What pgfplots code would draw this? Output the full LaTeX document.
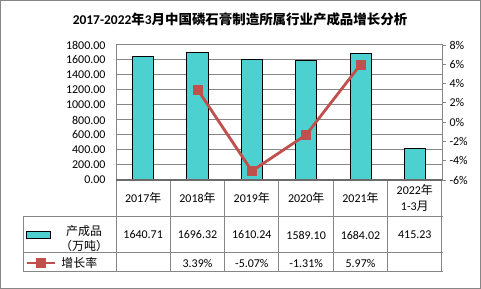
\documentclass[border=0pt]{standalone}
\usepackage{pgfplots}
\pgfplotsset{compat=1.18}
\usepackage{fontspec}
\setmainfont{Carlito}
\newfontfamily\cjk{Noto Sans CJK SC}
\definecolor{barc}{RGB}{77,208,208}
\definecolor{linec}{RGB}{192,80,77}
\definecolor{gridc}{RGB}{134,134,134}
\newcommand{\nian}{{\cjk 年}}
\begin{document}
\begin{tikzpicture}
\draw[gridc, line width=1bp] (0.5bp,0.5bp) rectangle (480.5bp,288.5bp);
\node[font=\fontsize{13.5}{14}\selectfont\bfseries] at (240bp,270bp) {2017-2022{\cjk 年}3{\cjk 月中国磷石膏制造所属行业产成品增长分析}};

\begin{axis}[at={(116bp,109bp)}, anchor=south west, scale only axis, width=326bp, height=135bp,
 xmin=-0.5, xmax=5.5, ymin=0, ymax=1800,
 xtick=\empty,
 ytick={0,200,...,1800},
 yticklabels={0.00,200.00,400.00,600.00,800.00,1000.00,1200.00,1400.00,1600.00,1800.00},
 ymajorgrids, grid style={gridc, line width=1bp},
 major tick length=0pt,
 axis line style={gridc, line width=1bp},
 tick label style={font=\fontsize{12}{12}\selectfont},
 yticklabel shift=7bp,
 ybar,
 legend style={at={(axis description cs:-0.276,-0.407)}, anchor=west, draw=none, fill=none, inner sep=0pt, legend cell align=left, font=\fontsize{12}{15}\selectfont},
 legend image code/.code={\draw[#1] (0bp,-3.5bp) rectangle (24bp,3.5bp);},
]
\addplot[fill=barc, draw=black, line width=1bp, bar width=21bp] coordinates {(0,1640.71) (1,1696.32) (2,1610.24) (3,1589.10) (4,1684.02) (5,415.23)};
\addlegendentry{\cjk\hspace{7bp}\begin{tabular}{@{}c@{}}产成品\\（万吨）\end{tabular}}
\end{axis}

\begin{axis}[at={(116bp,109bp)}, anchor=south west, scale only axis, width=326bp, height=135bp,
 xmin=-0.5, xmax=5.5, ymin=-6, ymax=8,
 axis x line=none, axis y line*=right,
 ytick={-6,-4,...,8}, yticklabels={-6\%,-4\%,-2\%,0\%,2\%,4\%,6\%,8\%},
 tick align=outside, major tick length=4bp, ytick style={gridc, line width=1bp},
 axis line style={gridc, line width=1bp},
 tick label style={font=\fontsize{12}{12}\selectfont},
 yticklabel shift=0bp,
 legend style={at={(axis description cs:-0.278,-0.615)}, anchor=west, draw=none, fill=none, inner sep=0pt, legend cell align=left, font=\fontsize{12}{15}\selectfont},
 legend image code/.code={\draw[mark repeat=2,mark phase=2,#1] plot coordinates {(0bp,0bp) (14bp,0bp) (28bp,0bp)};},
]
\addplot[linec, line width=2.8bp, mark=square*, mark size=4.5bp, mark options={fill=linec, draw=linec, line width=0.5bp}] coordinates {(1,3.39) (2,-5.07) (3,-1.31) (4,5.97)};
\addlegendentry{\cjk\hspace{3bp}增长率}
\end{axis}

% table rules
\begin{scope}[x=1bp,y=1bp]
\foreach \k in {0,...,6} {\draw[gridc, line width=1bp] ({116+\k*54.333},109) -- ({116+\k*54.333},17);}
\draw[gridc, line width=1bp] (23,72) -- (23,17);
\foreach \yy in {72,36,17} {\draw[gridc, line width=1bp] (22.5,\yy) -- (442.5,\yy);}
\draw[gridc!80!black, line width=1.5bp] (116,109) -- (442,109);

\begin{scope}[every node/.style={font=\fontsize{12}{15}\selectfont, inner sep=0pt}]
\node at ({116+0.5*54.333},91) {2017\nian};
\node at ({116+1.5*54.333},91) {2018\nian};
\node at ({116+2.5*54.333},91) {2019\nian};
\node at ({116+3.5*54.333},91) {2020\nian};
\node at ({116+4.5*54.333},91) {2021\nian};
\node[align=center, font=\fontsize{12}{16}\selectfont] at ({116+5.5*54.333},91) {2022\nian\\1-3{\cjk 月}};
\node at ({116+0.5*54.333},54) {1640.71};
\node at ({116+1.5*54.333},54) {1696.32};
\node at ({116+2.5*54.333},54) {1610.24};
\node at ({116+3.5*54.333},54) {1589.10};
\node at ({116+4.5*54.333},54) {1684.02};
\node at ({116+5.5*54.333},54) {415.23};
\node at ({116+1.5*54.333},26) {3.39\%};
\node at ({116+2.5*54.333},26) {-5.07\%};
\node at ({116+3.5*54.333},26) {-1.31\%};
\node at ({116+4.5*54.333},26) {5.97\%};
\end{scope}
\end{scope}
\end{tikzpicture}
\end{document}
